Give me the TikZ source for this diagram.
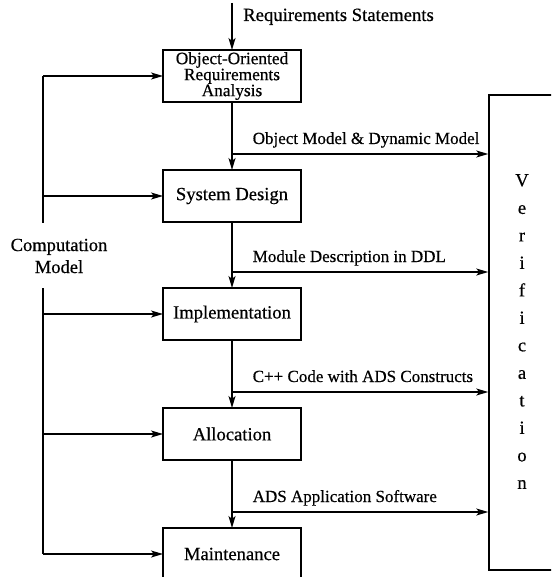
\documentclass[tikz,border=0pt]{standalone}
\usepackage{fontspec}
\setmainfont{Liberation Serif}[FakeBold=0.5]
\usetikzlibrary{arrows.meta,positioning}
\tikzset{
    stage/.style = {draw, line width=1.5pt, minimum width=138pt, minimum height=52pt,
        inner sep=0pt, outer sep=0pt, align=center, font=\fontsize{18.6}{18.6}\selectfont},
    flowarrow/.style = {-{Stealth[length=12pt,width=7pt,inset=3pt]}, line width=1.5pt},
    flowlabel/.style = {anchor=base west, inner sep=0pt, font=\fontsize{17}{17}\selectfont}
}

\begin{document}
\begin{tikzpicture}[x=1pt, y=-1pt]
    \useasboundingbox (0,0) rectangle (551,577);
    \clip (0,0) rectangle (551,577);

    \node[stage, font=\fontsize{17.3}{16}\selectfont] (oora) at (232,76)
        {Object-Oriented\\Requirements\\Analysis};
    \node[stage] (design) [below=68pt of oora] {System Design};
    \node[stage] (impl) [below=66pt of design] {Implementation};
    \node[stage] (alloc) [below=68pt of impl] {Allocation};
    \node[stage] (maint) [below=68pt of alloc] {Maintenance};

    \node[draw, line width=1.5pt, minimum width=131pt, minimum height=475pt] (verif) at (554.5,332.5) {};
    \node[align=center, font=\fontsize{18.6}{27.5}\selectfont] (vtext) at (522,331.5)
        {V\\e\\r\\i\\f\\i\\c\\a\\t\\i\\o\\n};

    \node[align=center, font=\fontsize{18.5}{22}\selectfont] (comp) at (59,256) {Computation\\Model};

    % requirements come in at the top
    \coordinate (reqtop) at (232,3);
    \draw[flowarrow] (reqtop) -- (oora);
    \node[flowlabel, font=\fontsize{18.7}{18.7}\selectfont] (req) at (243,21) {Requirements Statements};

    % computation model feeds every stage
    \coordinate (cmtop) at (43,223);
    \coordinate (cmbot) at (43,288);
    \draw[line width=1.5pt] (oora.west -| cmtop) -- (cmtop);
    \draw[line width=1.5pt] (cmbot) -- (maint.west -| cmbot);
    \foreach \s in {oora,design,impl,alloc,maint}
        \draw[flowarrow] (\s.west -| cmtop) -- (\s);

    % each stage output also goes to verification
    \foreach \b/\Label [remember=\b as \a (initially oora)] in {%
        design/{Object Model \& Dynamic Model},
        impl/{Module Description in DDL},
        alloc/{C++ Code with ADS Constructs},
        maint/{ADS Application Software}%
        }
    {
        \draw[flowarrow] (\a) -- (\b);
        \coordinate (\a-out) at ([yshift=16pt]\b.north);
        \draw[flowarrow] (\a-out) -- (\a-out -| verif.west)
            node[flowlabel, pos=0, xshift=20pt, yshift=10pt] {\Label};
    }
\end{tikzpicture}
\end{document}
